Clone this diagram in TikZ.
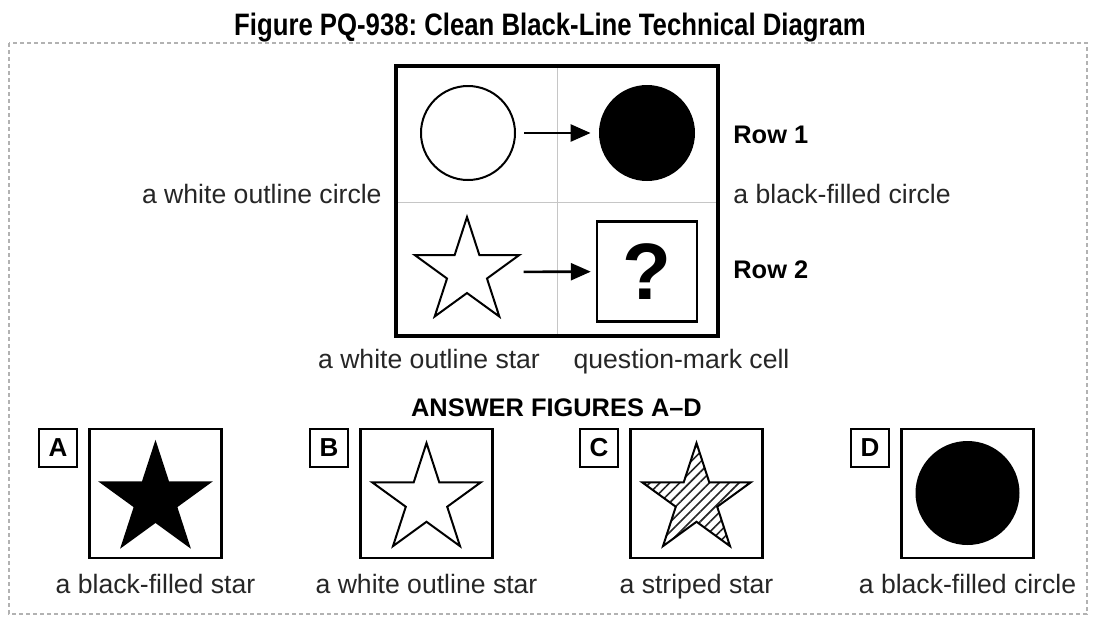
\documentclass[tikz,border=0pt]{standalone}
\usepackage{fontspec}
\setmainfont{Liberation Sans}
\newfontfamily\titlefont[FakeStretch=0.83]{Liberation Sans}
\usetikzlibrary{arrows.meta, positioning, shapes.geometric, patterns.meta}
\frenchspacing

\begin{document}
\begin{tikzpicture}[x=0.5pt, y=-0.5pt, >={Triangle[length=10pt, width=8.5pt]},
    lbl/.style={font=\fontsize{13.3}{15}\selectfont, text=black!85, inner sep=0pt},
    rowlbl/.style={font=\bfseries\fontsize{12.7}{15}\selectfont, inner sep=0pt},
    boxline/.style={draw, line width=1.2pt, inner sep=0pt},
    pentastar/.style={star, star points=5, star point ratio=2.618, inner sep=0pt, line width=1pt}]
  \useasboundingbox (0,0) rectangle (1094,618);
  % dashed frame round the figure
  \draw[gray!60, line width=1pt, dash pattern=on 2pt off 1.5pt] (9,43) rectangle (1087,614);
  \node[anchor=base, font=\titlefont\bfseries\fontsize{15.5}{18}\selectfont, inner sep=0pt] (title) at (550,35) {Figure PQ-938: Clean Black-Line Technical Diagram};

  % 2x2 puzzle grid
  \draw[gray!45, line width=0.5pt] (557,66) -- (557,335) (396,202) -- (717,202);
  \node[draw, line width=2pt, minimum width=160.75pt, minimum height=134.75pt, inner sep=0pt] (grid) at (556.75,200.75) {};
  \node[circle, draw, line width=1pt, minimum size=47pt, inner sep=0pt] (wcirc) at (468,133) {};
  \node[circle, fill=black, minimum size=48pt, inner sep=0pt] (bcirc) at (647,133) {};
  \node[pentastar, draw, minimum size=55pt] (wstar) at (467,272) {};
  \node[boxline, minimum size=50pt, font=\bfseries\fontsize{40}{40}\selectfont] (qbox) at (647,271.5) {?};
  \draw[->, line width=1.3pt, shorten <=4pt, shorten >=4pt] (wcirc) -- (bcirc);
  \draw[->, line width=1.3pt, shorten <=13pt, shorten >=2.5pt] (wstar) -- (qbox);

  % labels round the grid
  \node[rowlbl, anchor=base west] (row1) at (733,143) {Row 1};
  \node[rowlbl, anchor=base west] (row2) at (733,278) {Row 2};
  \node[lbl, anchor=base east] (lblwc) at (382,203) {a white outline circle};
  \node[lbl, anchor=base west] (lblbc) at (733,203) {a black-filled circle};
  \node[lbl, anchor=base] (lblws) at (429,368) {a white outline star};
  \node[lbl, anchor=base] (lblq) at (681.5,368) {question-mark cell};
  \node[rowlbl, anchor=base] (answers) at (556.5,416) {ANSWER FIGURES A--D};

  % answer figures
  \foreach \ltr/\cx/\txt in {A/155.5/a black-filled star, B/426.5/a white outline star,
      C/696.5/a striped star, D/967.5/a black-filled circle}{
    \node[boxline, minimum width=66pt, minimum height=64.5pt] (box\ltr) at (\cx,493.5) {};
    \node[boxline, minimum size=19pt, font=\bfseries\fontsize{13}{15}\selectfont] (tag\ltr) at (\cx-97.5,448) {\ltr};
    \node[lbl, anchor=base] (cap\ltr) at (\cx,593) {\txt};
  }
  \node[pentastar, draw, fill=black, minimum size=57pt] (starA) at (155.5,500) {};
  \node[pentastar, draw, fill=white, minimum size=57pt] (starB) at (426.5,500) {};
  \node[pentastar, draw, pattern={Lines[angle=45, distance=3.5pt, line width=0.8pt]}, pattern color=black!85, minimum size=57pt] (starC) at (696.5,500) {};
  \node[circle, fill=black, minimum size=52pt, inner sep=0pt] (circD) at (967.5,493) {};
\end{tikzpicture}
\end{document}
